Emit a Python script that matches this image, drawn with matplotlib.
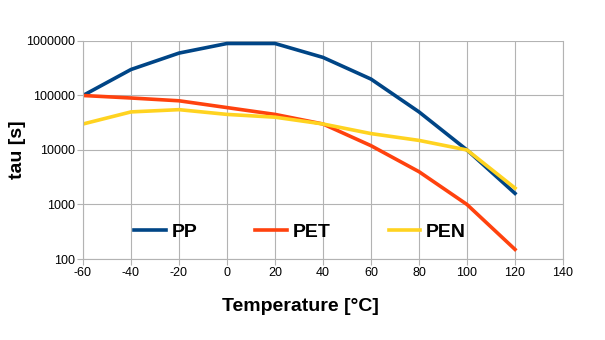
import matplotlib
matplotlib.use('Agg')
import matplotlib.pyplot as plt
from matplotlib.ticker import FixedLocator, NullLocator

plt.rcParams['font.family'] = ['Liberation Sans', 'DejaVu Sans']

# temperature in degC and relaxation time tau in s
temp = [-60, -40, -20, 0, 20, 40, 60, 80, 100, 120]
tau_pp = [100000, 300000, 600000, 900000, 900000, 500000, 200000, 50000, 10000, 1600]
tau_pet = [100000, 90000, 80000, 60000, 45000, 30000, 12000, 4000, 1000, 150]
tau_pen = [30000, 50000, 55000, 45000, 40000, 30000, 20000, 15000, 10000, 2000]

xticks = [-60, -40, -20, 0, 20, 40, 60, 80, 100, 120, 140]
yticks = [100, 1000, 10000, 100000, 1000000]

fig = plt.figure(figsize=(6.05, 3.4), dpi=100)
ax = fig.add_axes([83/605, 1-259/340, (563-83)/605, (259-41)/340])

ax.plot(temp, tau_pp, color='#004586', lw=2.6, label='PP', solid_joinstyle='round')
ax.plot(temp, tau_pet, color='#ff420e', lw=2.6, label='PET', solid_joinstyle='round')
ax.plot(temp, tau_pen, color='#ffd320', lw=2.6, label='PEN', solid_joinstyle='round')

ax.set_yscale('log')
ax.set_xlim(-60, 140)
ax.set_ylim(100, 1000000)
ax.xaxis.set_major_locator(FixedLocator(xticks))
ax.yaxis.set_major_locator(FixedLocator(yticks))
ax.yaxis.set_minor_locator(NullLocator())
ax.set_xticklabels([str(v) for v in xticks])
ax.set_yticklabels([str(v) for v in yticks])
ax.tick_params(labelsize=9, length=4, width=0.8, color='#b3b3b3', pad=2)

ax.grid(True, color='#b3b3b3', lw=0.8)
ax.set_axisbelow(True)
for s in ax.spines.values():
    s.set_color('#b3b3b3')
    s.set_linewidth(0.8)
ax.spines['top'].set_visible(False)

ax.set_xlabel('Temperature [°C]', fontsize=14, fontweight='bold')
ax.set_ylabel('tau [s]', fontsize=14, fontweight='bold')
ax.xaxis.set_label_coords(0.452, -0.179)
ax.yaxis.set_label_coords(-0.119, 0.5)

fig.legend(loc='center', bbox_to_anchor=(300/605, 1-232/340), ncol=3, frameon=False,
           prop={'size': 14, 'weight': 'bold'}, handlelength=1.6, handletextpad=0.3,
           columnspacing=3.0)

fig.savefig('out.png', dpi=100)
